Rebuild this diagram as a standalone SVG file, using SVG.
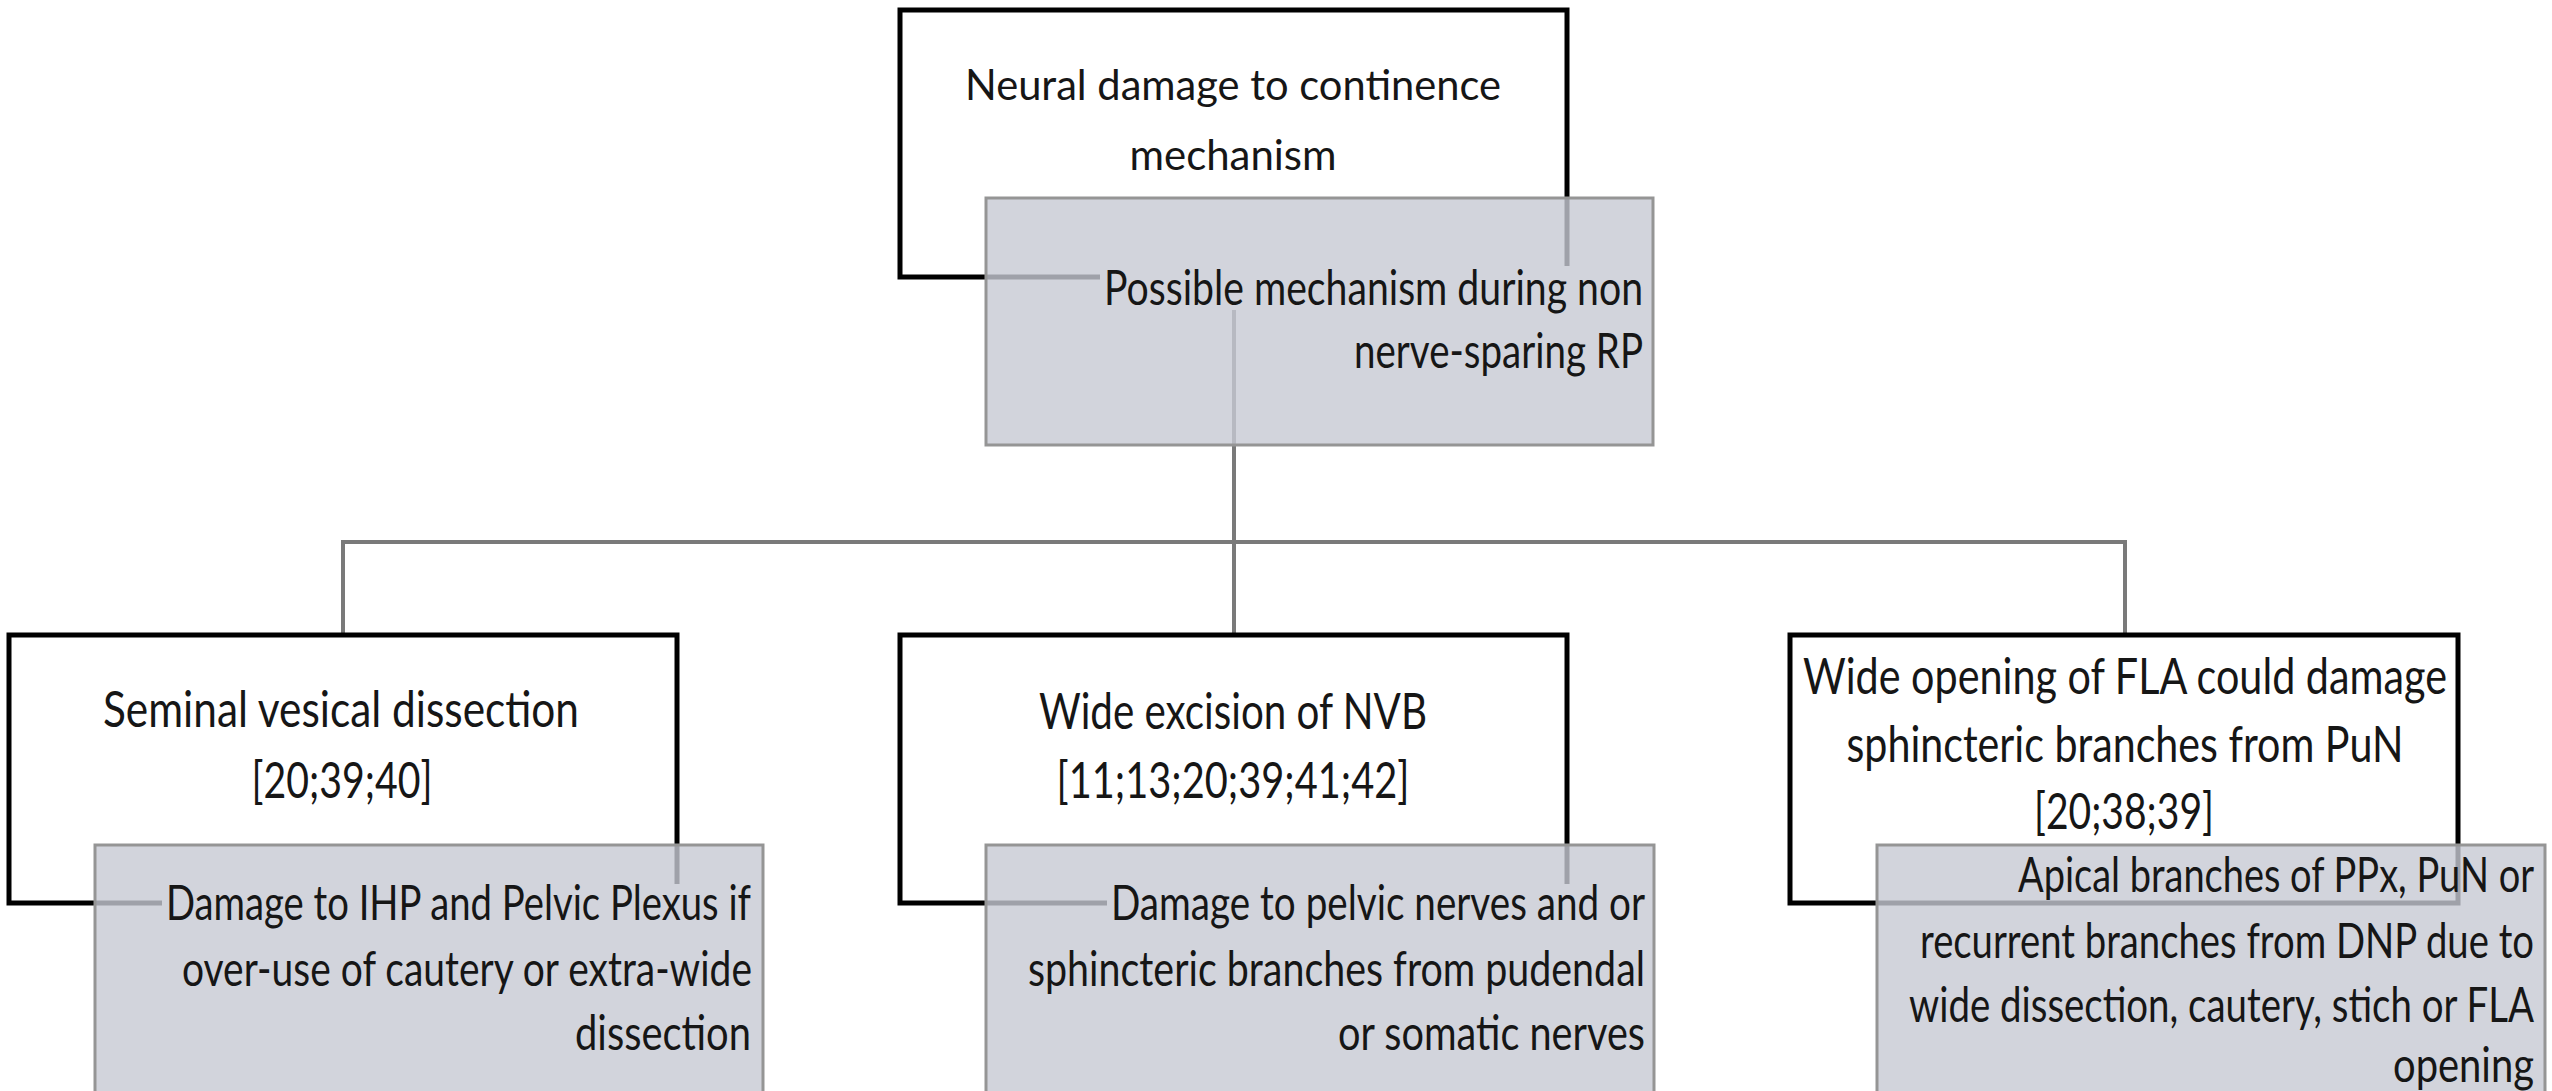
<svg xmlns="http://www.w3.org/2000/svg" width="2552" height="1091" viewBox="0 0 2552 1091">
  <style>
    .head { fill: #ffffff; stroke: #000000; stroke-width: 5; }
    .note { fill: rgb(199,201,211); fill-opacity: 0.8; stroke: #959595; stroke-width: 3; }
    .pad { fill: #d2d4dc; }
    .link { fill: none; stroke: #7a7a7a; stroke-width: 4; }
    text { font-family: Lato, "Liberation Sans", Arial, sans-serif; fill: #161616; }
    .ht { font-size: 50px; text-anchor: middle; }
    .top { font-size: 43px; text-anchor: middle; }
    .nt { font-size: 48px; text-anchor: end; }
  </style>
  <rect width="2552" height="1091" fill="#ffffff"/>

  <!-- connectors: trunk from the root, bus bar, drops to the three causes -->
  <g id="connectors">
    <path class="link" d="M1234 310 V635 M343 635 V542 H2125 V635"/>
  </g>

  <!-- root -->
  <g id="node-root">
    <rect class="head" x="900" y="10" width="667" height="267"/>
    <text class="top" x="1233" y="100" textLength="536" lengthAdjust="spacingAndGlyphs">Neural damage to continence</text>
    <text class="top" x="1233" y="170" textLength="207" lengthAdjust="spacingAndGlyphs">mechanism</text>
  </g>
  <g id="node-root-note">
    <rect class="note" x="986" y="198" width="667" height="247"/>
    <!-- opaque text band hides the outline seen through the translucent fill -->
    <rect class="pad" x="1100" y="266" width="550" height="44"/>
    <text class="nt" x="1643" y="305" textLength="539" lengthAdjust="spacingAndGlyphs">Possible mechanism during non</text>
    <text class="nt" x="1643" y="368" textLength="289" lengthAdjust="spacingAndGlyphs">nerve-sparing RP</text>
  </g>

  <!-- cause 1 -->
  <g id="node-seminal">
    <rect class="head" x="9" y="635" width="668" height="268"/>
    <text class="ht" x="341" y="727" textLength="476" lengthAdjust="spacingAndGlyphs">Seminal vesical dissection</text>
    <text class="ht" x="342" y="798" textLength="181" lengthAdjust="spacingAndGlyphs">[20;39;40]</text>
  </g>
  <g id="node-seminal-note">
    <rect class="note" x="95" y="845" width="668" height="250"/>
    <rect class="pad" x="162" y="884" width="598" height="50"/>
    <text class="nt" x="751" y="920" textLength="585" lengthAdjust="spacingAndGlyphs">Damage to IHP and Pelvic Plexus if</text>
    <text class="nt" x="752" y="986" textLength="570" lengthAdjust="spacingAndGlyphs">over-use of cautery or extra-wide</text>
    <text class="nt" x="751" y="1050" textLength="176" lengthAdjust="spacingAndGlyphs">dissection</text>
  </g>

  <!-- cause 2 -->
  <g id="node-nvb">
    <rect class="head" x="900" y="635" width="667" height="268"/>
    <text class="ht" x="1233" y="729" textLength="388" lengthAdjust="spacingAndGlyphs">Wide excision of NVB</text>
    <text class="ht" x="1233" y="798" textLength="353" lengthAdjust="spacingAndGlyphs">[11;13;20;39;41;42]</text>
  </g>
  <g id="node-nvb-note">
    <rect class="note" x="986" y="845" width="668" height="250"/>
    <rect class="pad" x="1107" y="884" width="544" height="50"/>
    <text class="nt" x="1645" y="920" textLength="534" lengthAdjust="spacingAndGlyphs">Damage to pelvic nerves and or</text>
    <text class="nt" x="1645" y="986" textLength="617" lengthAdjust="spacingAndGlyphs">sphincteric branches from pudendal</text>
    <text class="nt" x="1645" y="1050" textLength="307" lengthAdjust="spacingAndGlyphs">or somatic nerves</text>
  </g>

  <!-- cause 3 -->
  <g id="node-fla">
    <rect class="head" x="1790" y="635" width="668" height="268"/>
    <text class="ht" x="2125" y="694" textLength="644" lengthAdjust="spacingAndGlyphs">Wide opening of FLA could damage</text>
    <text class="ht" x="2125" y="762" textLength="557" lengthAdjust="spacingAndGlyphs">sphincteric branches from  PuN</text>
    <text class="ht" x="2124" y="829" textLength="180" lengthAdjust="spacingAndGlyphs">[20;38;39]</text>
  </g>
  <g id="node-fla-note">
    <rect class="note" x="1877" y="845" width="668" height="250"/>
    <text class="nt" x="2534" y="892" textLength="516" lengthAdjust="spacingAndGlyphs">Apical branches of PPx, PuN or</text>
    <text class="nt" x="2534" y="958" textLength="614" lengthAdjust="spacingAndGlyphs">recurrent branches from DNP due to</text>
    <text class="nt" x="2534" y="1022" textLength="625" lengthAdjust="spacingAndGlyphs">wide dissection, cautery, stich or FLA</text>
    <text class="nt" x="2534" y="1082" textLength="141" lengthAdjust="spacingAndGlyphs">opening</text>
  </g>
</svg>
